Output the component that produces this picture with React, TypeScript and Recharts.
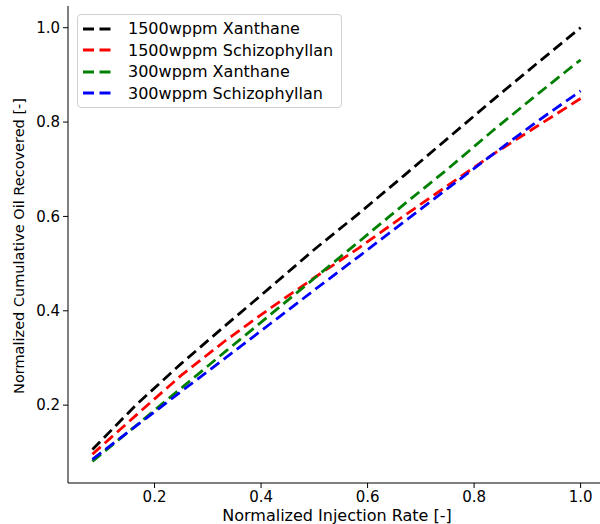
import { LineChart, Line, XAxis, YAxis, Legend, Label } from "recharts";

// normalized injection rate (x) and recovered oil for each polymer case
const injectionRate = [0.0833, 0.1667, 0.25, 0.3333, 0.4167, 0.5, 0.5833, 0.6667, 0.75, 0.8333, 0.9167, 1.0];
const xanthane1500 = [0.106, 0.202, 0.288, 0.369, 0.449, 0.53, 0.606, 0.685, 0.765, 0.845, 0.923, 1.0];
const schizo1500 = [0.096, 0.18, 0.263, 0.337, 0.405, 0.47, 0.533, 0.6, 0.665, 0.73, 0.79, 0.85];
const xanthane300 = [0.081, 0.158, 0.236, 0.314, 0.391, 0.469, 0.546, 0.624, 0.7, 0.78, 0.857, 0.932];
const schizo300 = [0.085, 0.157, 0.229, 0.3, 0.372, 0.444, 0.515, 0.587, 0.659, 0.73, 0.8, 0.866];

const xTicks = [0.2, 0.4, 0.6, 0.8, 1.0];
const yTicks = [0.2, 0.4, 0.6, 0.8, 1.0];

const series = [
  { key: "x1500", name: "1500wppm Xanthane", color: "#000000" },
  { key: "s1500", name: "1500wppm Schizophyllan", color: "#ff0000" },
  { key: "x300", name: "300wppm Xanthane", color: "#008000" },
  { key: "s300", name: "300wppm Schizophyllan", color: "#0000ff" },
];

const data = injectionRate.map((x, i) => ({
  x,
  x1500: xanthane1500[i],
  s1500: schizo1500[i],
  x300: xanthane300[i],
  s300: schizo300[i],
}));

const FONT = "DejaVu Sans, sans-serif";
const DASH = "11 5.5";

const renderLegend = () => (
  <div
    style={{
      border: "1px solid #d0d0d0",
      borderRadius: 4,
      background: "rgba(255,255,255,0.8)",
      padding: "3px 8px 3px 5px",
      fontFamily: FONT,
      fontSize: 16,
      color: "#000",
    }}
  >
    {series.map((s) => (
      <div key={s.key} style={{ display: "flex", alignItems: "center", height: 21.5 }}>
        <svg width={30} height={10} style={{ marginRight: 15 }}>
          <line x1={0} y1={5} x2={29} y2={5} stroke={s.color} strokeWidth={2.8} strokeDasharray={DASH} />
        </svg>
        <span>{s.name}</span>
      </div>
    ))}
  </div>
);

export default function App() {
  return (
    <div style={{ width: 600, height: 524, overflow: "hidden" }}>
      <style>{`body { margin: 0; }`}</style>
      <LineChart
        width={606}
        height={524}
        data={data}
        margin={{ top: 6, right: 1, left: 0, bottom: 0 }}
        style={{ fontFamily: FONT }}
      >
        <XAxis
          dataKey="x"
          type="number"
          domain={[0.0375, 1.0458]}
          ticks={xTicks}
          allowDataOverflow
          tickFormatter={(v) => v.toFixed(1)}
          tick={{ fill: "#000", fontSize: 15 }}
          tickSize={5}
          tickMargin={3}
          height={41}
          axisLine={{ stroke: "#000" }}
          tickLine={{ stroke: "#000" }}
        >
          <Label
            content={() => (
              <text x={337} y={521} textAnchor="middle" fontSize={16} fill="#000" fontFamily={FONT}>
                Normalized Injection Rate [-]
              </text>
            )}
          />
        </XAxis>
        <XAxis
          xAxisId="top"
          orientation="top"
          dataKey="x"
          type="number"
          domain={[0.0375, 1.0458]}
          height={0}
          tick={false}
          tickLine={false}
          axisLine={{ stroke: "#000" }}
        />
        <YAxis
          type="number"
          domain={[0.035, 1.046]}
          ticks={yTicks}
          allowDataOverflow
          tickFormatter={(v) => v.toFixed(1)}
          tick={{ fill: "#000", fontSize: 15 }}
          tickSize={5}
          tickMargin={3}
          width={68}
          axisLine={{ stroke: "#000" }}
          tickLine={{ stroke: "#000" }}
        >
          <Label
            content={() => (
              <text
                x={24}
                y={246}
                transform="rotate(-90 24 246)"
                textAnchor="middle"
                fontSize={14.5}
                fill="#000"
                fontFamily={FONT}
              >
                Normalized Cumulative Oil Recovered [-]
              </text>
            )}
          />
        </YAxis>
        <Legend
          layout="vertical"
          align="center"
          verticalAlign="middle"
          content={renderLegend}
          wrapperStyle={{ left: 77, top: 14, width: "auto" }}
        />
        {series.map((s) => (
          <Line
            key={s.key}
            dataKey={s.key}
            name={s.name}
            stroke={s.color}
            strokeWidth={2.8}
            strokeDasharray={DASH}
            dot={false}
            type="linear"
            isAnimationActive={false}
          />
        ))}
      </LineChart>
    </div>
  );
}
